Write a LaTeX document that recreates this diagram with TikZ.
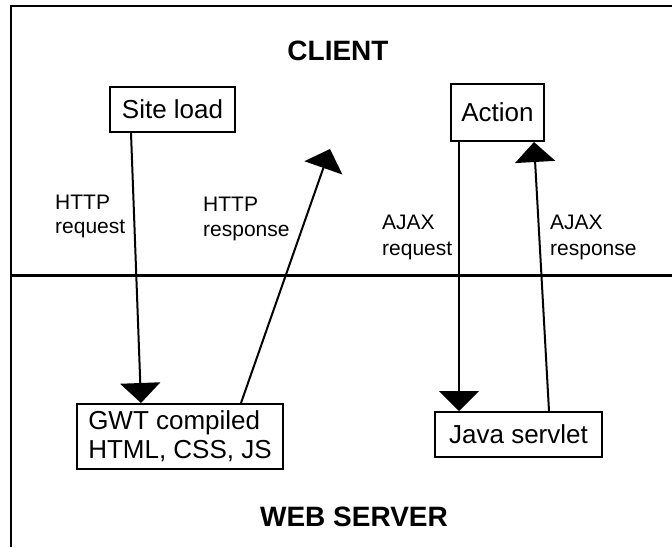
\documentclass[tikz,border=0pt]{standalone}
\usepackage{fontspec}
\setmainfont{Liberation Sans}
\usetikzlibrary{arrows.meta,calc}
\begin{document}
\begin{tikzpicture}[x=1pt,y=-1pt,
  box/.style={draw,line width=2pt,inner sep=0pt,font=\fontsize{26}{29}\selectfont},
  lbl/.style={anchor=north west,inner sep=0pt,align=left,font=\fontsize{21}{25}\selectfont},
  ttl/.style={anchor=base,inner sep=0pt,font=\fontsize{28}{32}\selectfont\bfseries},
  conn/.style={line width=2pt,-{Triangle[width=40pt,length=20pt]}},
  framepart/.style={line width=2.5pt,line join=miter}]
\useasboundingbox (0,0) rectangle (672,547);
\fill[white] (0,0) rectangle (672,547);
% frame and divider
\coordinate (ftop) at (672,6);
\coordinate (fcorner) at (11,6);
\coordinate (fbot) at (11,547);
\draw[framepart] (fbot) -- (fcorner) -- (ftop);
\coordinate (dl) at (11,275.5);
\coordinate (dr) at (672,275.5);
\draw[framepart] (dl) -- (dr);
% titles
\node[ttl] (client) at (338,60) {CLIENT};
\node[ttl] (server) at (354,526) {WEB SERVER};
% boxes
\node[box,minimum width=125pt,minimum height=45pt] (sl) at (172.5,109.5) {Site load};
\node[box,minimum width=93pt,minimum height=57pt] (act) at (497.5,112.5) {Action};
\node[box,minimum width=206pt,minimum height=65pt,align=left] (gwt) at (180,436.5) {GWT compiled\\HTML, CSS, JS};
\node[box,minimum width=167pt,minimum height=45pt] (java) at (518.5,434.5) {Java servlet};
% connectors
\coordinate (resptip) at (330,149);
\draw[conn] ($(sl.south west)+(22,0)$) -- ($(gwt.north west)+(65,0)$);
\draw[conn] ($(gwt.north west)+(165,0)$) -- (resptip);
\draw[conn] ($(act.south west)+(9,0)$) -- ($(java.north west)+(25,0)$);
\draw[conn] ($(java.north west)+(115,0)$) -- ($(act.south west)+(84,0)$);
% labels
\node[lbl,font=\fontsize{21}{24}\selectfont] (l1) at (55,195) {HTTP\\request};
\node[lbl] (l2) at (203,197) {HTTP\\response};
\node[lbl,font=\fontsize{21}{26}\selectfont] (l3) at (382,215) {AJAX\\request};
\node[lbl,font=\fontsize{21}{26}\selectfont] (l4) at (550,215) {AJAX\\response};
\end{tikzpicture}
\end{document}
